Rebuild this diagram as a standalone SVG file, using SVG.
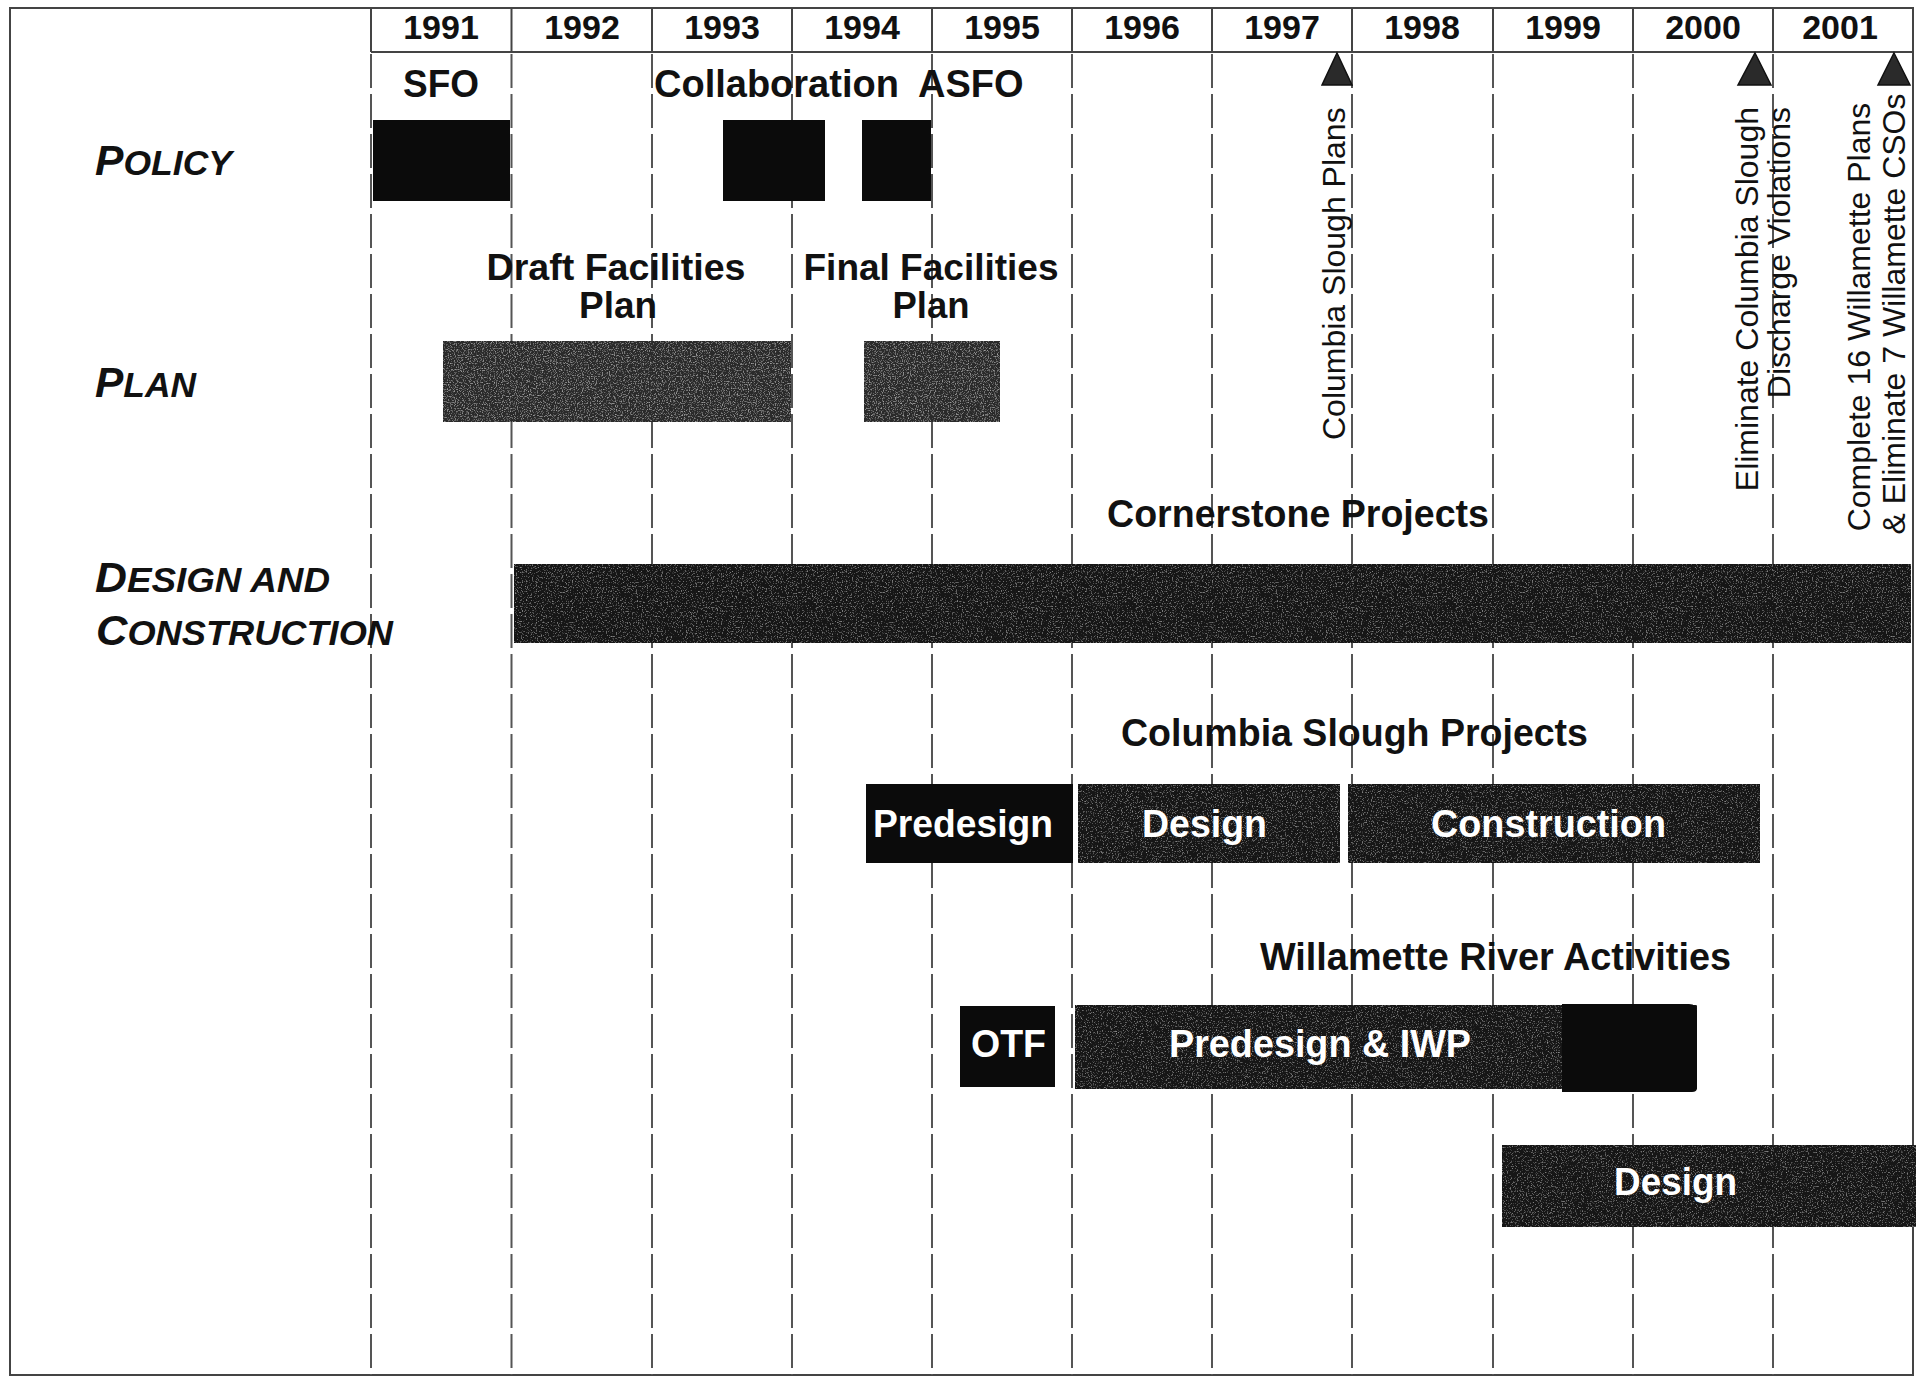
<svg xmlns="http://www.w3.org/2000/svg" width="1918" height="1377" viewBox="0 0 1918 1377">
<style>
.t{font-family:"Liberation Sans",Arial,sans-serif;font-weight:bold;fill:#111;font-size:38px}
.t2{font-family:"Liberation Sans",Arial,sans-serif;font-weight:bold;fill:#111;font-size:36px;text-anchor:middle}
.yr{font-family:"Liberation Sans",Arial,sans-serif;font-weight:bold;fill:#111;font-size:34px;text-anchor:middle}
.w{font-family:"Liberation Sans",Arial,sans-serif;font-weight:bold;fill:#fff;font-size:38px}
.v{font-family:"Liberation Sans",Arial,sans-serif;fill:#111;font-size:32px}
.cat{font-family:"Liberation Sans",Arial,sans-serif;font-weight:bold;font-style:italic;fill:#111}
.big{font-size:42px}
.sm{font-size:35px}
.grid{stroke:#555;stroke-width:2;stroke-dasharray:34 6;fill:none}
.sep{stroke:#444;stroke-width:2;fill:none}
.frame{stroke:#444;stroke-width:2;fill:none}
.bk{fill:#0b0b0b}
.gr{fill:#2c2c2c;filter:url(#grain)}
.dk{fill:#151515;filter:url(#grain2)}
.ms{fill:#2a2a2a;stroke:#111;stroke-width:1.5}
</style>
<defs>
<filter id="grain" x="0" y="0" width="1" height="1">
<feTurbulence type="fractalNoise" baseFrequency="0.85" numOctaves="2" seed="7" result="n"/>
<feColorMatrix in="n" type="matrix" values="0 0 0 0 0.5  0 0 0 0 0.5  0 0 0 0 0.5  0 0 0 2.2 -1.15" result="sp"/>
<feComposite in="sp" in2="SourceGraphic" operator="in" result="spc"/>
<feMerge><feMergeNode in="SourceGraphic"/><feMergeNode in="spc"/></feMerge>
</filter>
<filter id="grain2" x="0" y="0" width="1" height="1">
<feTurbulence type="fractalNoise" baseFrequency="0.8" numOctaves="2" seed="3" result="n"/>
<feColorMatrix in="n" type="matrix" values="0 0 0 0 0.4  0 0 0 0 0.4  0 0 0 0 0.4  0 0 0 2.2 -1.25" result="sp"/>
<feComposite in="sp" in2="SourceGraphic" operator="in" result="spc"/>
<feMerge><feMergeNode in="SourceGraphic"/><feMergeNode in="spc"/></feMerge>
</filter>
</defs>
<rect width="1918" height="1377" fill="#fff"/>
<g id="frame">
<rect class="frame" x="10" y="8" width="1903" height="1367"/>
<line class="sep" x1="371" y1="52" x2="1913" y2="52"/>
<line class="sep" x1="371" y1="8" x2="371" y2="52"/>
<line class="sep" x1="511.5" y1="8" x2="511.5" y2="52"/>
<line class="sep" x1="652" y1="8" x2="652" y2="52"/>
<line class="sep" x1="792" y1="8" x2="792" y2="52"/>
<line class="sep" x1="932" y1="8" x2="932" y2="52"/>
<line class="sep" x1="1072" y1="8" x2="1072" y2="52"/>
<line class="sep" x1="1212" y1="8" x2="1212" y2="52"/>
<line class="sep" x1="1352" y1="8" x2="1352" y2="52"/>
<line class="sep" x1="1493" y1="8" x2="1493" y2="52"/>
<line class="sep" x1="1633" y1="8" x2="1633" y2="52"/>
<line class="sep" x1="1773" y1="8" x2="1773" y2="52"/>
</g>
<g id="connectors">
<line class="grid" x1="371" y1="54" x2="371" y2="1375"/>
<line class="grid" x1="511.5" y1="54" x2="511.5" y2="1375"/>
<line class="grid" x1="652" y1="54" x2="652" y2="1375"/>
<line class="grid" x1="792" y1="54" x2="792" y2="1375"/>
<line class="grid" x1="932" y1="54" x2="932" y2="1375"/>
<line class="grid" x1="1072" y1="54" x2="1072" y2="1375"/>
<line class="grid" x1="1212" y1="54" x2="1212" y2="1375"/>
<line class="grid" x1="1352" y1="54" x2="1352" y2="1375"/>
<line class="grid" x1="1493" y1="54" x2="1493" y2="1375"/>
<line class="grid" x1="1633" y1="54" x2="1633" y2="1375"/>
<line class="grid" x1="1773" y1="54" x2="1773" y2="1375"/>
</g>
<g id="years">
<text class="yr" x="441" y="39">1991</text>
<text class="yr" x="582" y="39">1992</text>
<text class="yr" x="722" y="39">1993</text>
<text class="yr" x="862" y="39">1994</text>
<text class="yr" x="1002" y="39">1995</text>
<text class="yr" x="1142" y="39">1996</text>
<text class="yr" x="1282" y="39">1997</text>
<text class="yr" x="1422" y="39">1998</text>
<text class="yr" x="1563" y="39">1999</text>
<text class="yr" x="1703" y="39">2000</text>
<text class="yr" x="1840" y="39">2001</text>
</g>
<g id="row-labels">
<text class="cat" x="95" y="175" textLength="137" lengthAdjust="spacingAndGlyphs"><tspan class="big">P</tspan><tspan class="sm">OLICY</tspan></text>
<text class="cat" x="95" y="397" textLength="101" lengthAdjust="spacingAndGlyphs"><tspan class="big">P</tspan><tspan class="sm">LAN</tspan></text>
<text class="cat" x="95" y="592" textLength="235" lengthAdjust="spacingAndGlyphs"><tspan class="big">D</tspan><tspan class="sm">ESIGN AND</tspan></text>
<text class="cat" x="96" y="645" textLength="297" lengthAdjust="spacingAndGlyphs"><tspan class="big">C</tspan><tspan class="sm">ONSTRUCTION</tspan></text>
</g>
<g id="policy">
<text class="t" x="403" y="97" textLength="76" lengthAdjust="spacingAndGlyphs">SFO</text>
<text class="t" x="654" y="97">Collaboration<tspan x="918">ASFO</tspan></text>
<rect class="bk" x="373" y="120" width="137" height="81"/>
<rect class="bk" x="723" y="120" width="102" height="81"/>
<rect class="bk" x="862" y="120" width="69" height="81"/>
</g>
<g id="plan">
<text class="t2" x="616" y="280" textLength="259" lengthAdjust="spacingAndGlyphs">Draft Facilities</text>
<text class="t2" x="618" y="318" textLength="78" lengthAdjust="spacingAndGlyphs">Plan</text>
<text class="t2" x="931" y="280" textLength="255" lengthAdjust="spacingAndGlyphs">Final Facilities</text>
<text class="t2" x="931" y="318" textLength="77" lengthAdjust="spacingAndGlyphs">Plan</text>
<rect class="gr" x="443" y="341" width="348" height="81"/>
<rect class="gr" x="864" y="341" width="136" height="81"/>
</g>
<g id="cornerstone">
<text class="t" x="1107" y="527" textLength="382" lengthAdjust="spacingAndGlyphs">Cornerstone Projects</text>
<rect class="dk" x="514" y="564" width="1397" height="79"/>
</g>
<g id="columbia-slough">
<text class="t" x="1121" y="746" textLength="467" lengthAdjust="spacingAndGlyphs">Columbia Slough Projects</text>
<rect class="bk" x="866" y="784" width="207" height="79"/>
<rect class="dk" x="1078" y="784" width="262" height="79"/>
<rect class="dk" x="1348" y="784" width="412" height="79"/>
<text class="w" x="873" y="837" textLength="180" lengthAdjust="spacingAndGlyphs">Predesign</text>
<text class="w" x="1142" y="837" textLength="125" lengthAdjust="spacingAndGlyphs">Design</text>
<text class="w" x="1431" y="837" textLength="235" lengthAdjust="spacingAndGlyphs">Construction</text>
</g>
<g id="willamette">
<text class="t" x="1260" y="970" textLength="471" lengthAdjust="spacingAndGlyphs">Willamette River Activities</text>
<rect class="bk" x="960" y="1006" width="95" height="81"/>
<text class="w" x="971" y="1057" textLength="75" lengthAdjust="spacingAndGlyphs">OTF</text>
<rect class="dk" x="1075" y="1005" width="622" height="84"/>
<path class="bk" d="M1562,1004 H1689 Q1697,1004 1697,1012 V1088 Q1697,1092 1692,1092 H1562 Z"/>
<text class="w" x="1169" y="1057" textLength="302" lengthAdjust="spacingAndGlyphs">Predesign &amp; IWP</text>
<rect class="dk" x="1502" y="1145" width="414" height="82"/>
<text class="w" x="1614" y="1195" textLength="123" lengthAdjust="spacingAndGlyphs">Design</text>
</g>
<g id="milestones">
<path class="ms" d="M1337,53 L1352,85 L1322,85 Z"/>
<path class="ms" d="M1755,53 L1771,85 L1738,85 Z"/>
<path class="ms" d="M1894,53 L1910,85 L1878,85 Z"/>
<text class="v" transform="translate(1345,440) rotate(-90)">Columbia Slough Plans</text>
<text class="v" transform="translate(1758,107) rotate(-90)" text-anchor="end">Eliminate Columbia Slough</text>
<text class="v" transform="translate(1790,107) rotate(-90)" text-anchor="end">Discharge Violations</text>
<text class="v" transform="translate(1870,317) rotate(-90)" text-anchor="middle">Complete 16 Willamette Plans</text>
<text class="v" transform="translate(1905,314) rotate(-90)" text-anchor="middle">&amp; Eliminate 7 Willamette CSOs</text>
</g>
</svg>
